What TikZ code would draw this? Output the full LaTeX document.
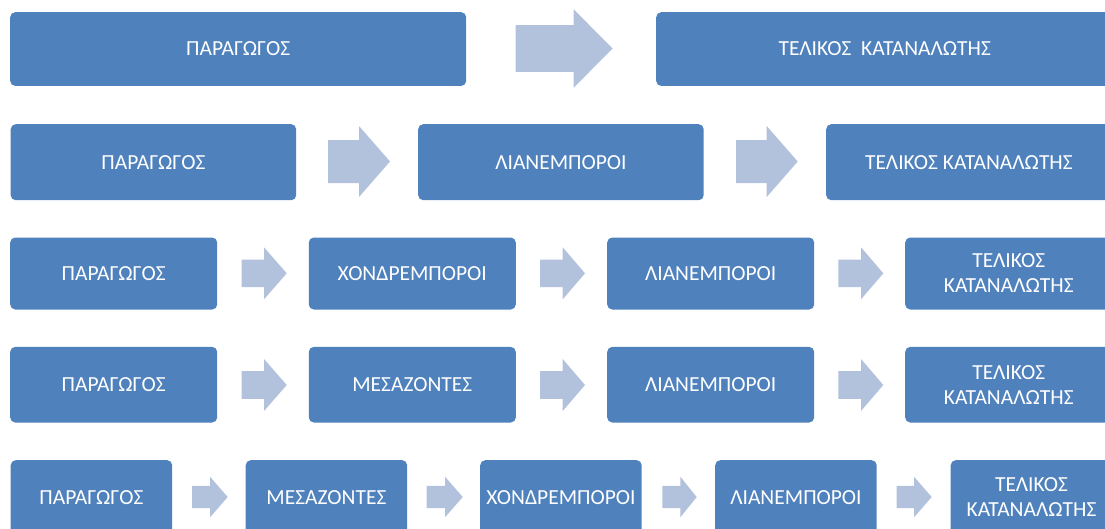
\documentclass[tikz,border=0pt]{standalone}
\usepackage{fontspec}
\setmainfont{Carlito}
\definecolor{boxblue}{HTML}{4F81BD}
\definecolor{arrowblue}{HTML}{B3C2DC}
\tikzset{
  box/.style={fill=boxblue, rounded corners=5pt, text=white,
    font=\fontsize{21.5}{25}\selectfont, align=center, inner sep=0pt,
    anchor=north west},
  blockarrow/.style={fill=arrowblue}
}
% x0 (tail), xb (head base), xt (tip), yc (centre), h (head half-height), s (shaft half-height)
\newcommand\blockarr[6]{%
  \fill[blockarrow] (#1,{#4-#6}) -- (#2,{#4-#6}) -- (#2,{#4-#5}) -- (#3,#4)
    -- (#2,{#4+#5}) -- (#2,{#4+#6}) -- (#1,{#4+#6}) -- cycle;}
\begin{document}
\begin{tikzpicture}[x=1pt,y=-1pt]
\useasboundingbox (0,0) rectangle (1105,528);
\clip (0,0) rectangle (1105,528);
% Row 1
\node[box, minimum width=456pt, minimum height=73.7pt] (a1) at (10,12) {ΠΑΡΑΓΩΓΟΣ};
\node[box, minimum width=457pt, minimum height=73.7pt] (a2) at (656,12) {ΤΕΛΙΚΟΣ\ \ ΚΑΤΑΝΑΛΩΤΗΣ};
\blockarr{515.6}{573.7}{612.5}{48.5}{39.2}{23.3}
% Row 2
\node[box, minimum width=285.5pt, minimum height=76pt] (b1) at (10.5,124) {ΠΑΡΑΓΩΓΟΣ};
\node[box, minimum width=285.5pt, minimum height=76pt] (b2) at (418,124) {ΛΙΑΝΕΜΠΟΡΟΙ};
\node[box, minimum width=285.5pt, minimum height=76pt] (b3) at (826,124) {ΤΕΛΙΚΟΣ ΚΑΤΑΝΑΛΩΤΗΣ};
\blockarr{328}{359}{390}{161.5}{35.5}{21.5}
\blockarr{736}{766.7}{797.7}{161.5}{35.5}{21.5}
% Row 3
\node[box, minimum width=207pt, minimum height=72pt] (c1) at (10,237.3) {ΠΑΡΑΓΩΓΟΣ};
\node[box, minimum width=207pt, minimum height=72pt] (c2) at (308.6,237.3) {ΧΟΝΔΡΕΜΠΟΡΟΙ};
\node[box, minimum width=207pt, minimum height=72pt] (c3) at (607,237.3) {ΛΙΑΝΕΜΠΟΡΟΙ};
\node[box, minimum width=207pt, minimum height=72pt] (c4) at (905,237.3) {ΤΕΛΙΚΟΣ\\ΚΑΤΑΝΑΛΩΤΗΣ};
\blockarr{241.7}{264}{286.7}{273.3}{26}{13.8}
\blockarr{540}{562.7}{585}{273.3}{26}{13.8}
\blockarr{838.3}{861}{883.3}{273.3}{26}{13.8}
% Row 4
\node[box, minimum width=207pt, minimum height=75.6pt] (d1) at (10,346.7) {ΠΑΡΑΓΩΓΟΣ};
\node[box, minimum width=207pt, minimum height=75.6pt] (d2) at (308.6,346.7) {ΜΕΣΑΖΟΝΤΕΣ};
\node[box, minimum width=207pt, minimum height=75.6pt] (d3) at (607,346.7) {ΛΙΑΝΕΜΠΟΡΟΙ};
\node[box, minimum width=207pt, minimum height=75.6pt] (d4) at (905,346.7) {ΤΕΛΙΚΟΣ\\ΚΑΤΑΝΑΛΩΤΗΣ};
\blockarr{241.7}{264}{286.7}{385}{26}{13.8}
\blockarr{540}{562.7}{585}{385}{26}{13.8}
\blockarr{838.3}{861}{883.3}{385}{26}{13.8}
% Row 5
\node[box, minimum width=161.5pt, minimum height=74pt] (e1) at (10.5,460) {ΠΑΡΑΓΩΓΟΣ};
\node[box, minimum width=161.5pt, minimum height=74pt] (e2) at (245.5,460) {ΜΕΣΑΖΟΝΤΕΣ};
\node[box, minimum width=161.5pt, minimum height=74pt] (e3) at (480,460) {ΧΟΝΔΡΕΜΠΟΡΟΙ};
\node[box, minimum width=161.5pt, minimum height=74pt] (e4) at (715,460) {ΛΙΑΝΕΜΠΟΡΟΙ};
\node[box, minimum width=161.5pt, minimum height=74pt] (e5) at (950.5,460) {ΤΕΛΙΚΟΣ\\ΚΑΤΑΝΑΛΩΤΗΣ};
\blockarr{192}{210}{227.7}{497}{20.3}{11.2}
\blockarr{426.7}{445}{462.7}{497}{20.3}{11.2}
\blockarr{662.3}{680.3}{696.7}{497}{20.3}{11.2}
\blockarr{896.7}{914}{931.7}{497}{20.3}{11.2}
\end{tikzpicture}
\end{document}
